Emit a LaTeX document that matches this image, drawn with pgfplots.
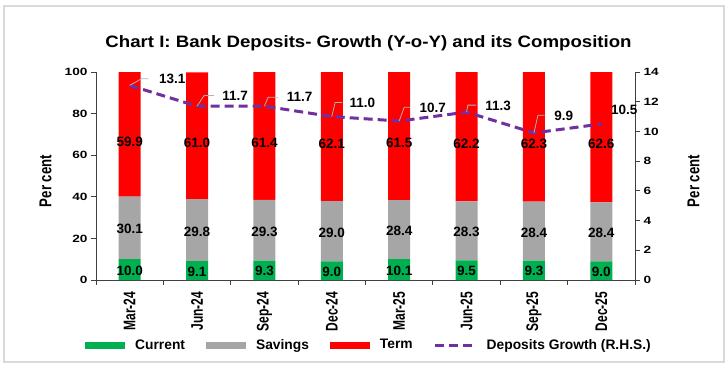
\documentclass[border=0pt]{standalone}
\usepackage{fontspec}
\setmainfont{Liberation Sans}
\usepackage{graphicx}
\usepackage{pgfplots}
\usepackage{pgfplotstable}
\pgfplotsset{compat=1.18}

\definecolor{cur}{HTML}{00B050}
\definecolor{sav}{HTML}{A6A6A6}
\definecolor{term}{HTML}{FF0000}
\definecolor{grw}{HTML}{7030A0}
\definecolor{framec}{HTML}{D9D9D9}
\definecolor{axc}{HTML}{404040}

\pgfplotstableread{
x cur sav term
0 10.0 30.1 59.9
1 9.1 29.8 61.0
2 9.3 29.3 61.4
3 9.0 29.0 62.1
4 10.1 28.4 61.5
5 9.5 28.3 62.2
6 9.3 28.4 62.3
7 9.0 28.4 62.6
}\comp

\pgfplotstableread{
x g ax ay bx lx ly
0 13.1 12 6.7 18.7 29 7
1 11.7 7 10.6 17 25 10.3
2 11.7 3.7 9 13.7 22 9.7
3 11.0 3.3 14 10 17.3 13.7
4 10.7 5 13.7 11 20 12.7
5 11.3 1.3 7 9.3 18.3 6
6 9.9 4 17.7 10.6 20 16.7
7 10.5 0 0 0 9.3 14.3
}\growth

\pgfdeclareplotmark{leader}{%
  \pgfpathmoveto{\pgfpointorigin}%
  \pgfpathlineto{\pgfpoint{\lax pt}{\lay pt}}%
  \pgfpathlineto{\pgfpoint{\lbx pt}{\lay pt}}%
  \pgfusepathqstroke}

\newcommand\tk[1]{\scalebox{1.3}[1]{#1}}
\newcommand\xl[1]{\scalebox{1}[1.4]{#1}}

\pgfplotsset{
  common/.style={
    at={(0,0)}, anchor=south west,
    width=539pt, height=208pt, scale only axis,
    xmin=-0.5, xmax=7.5,
    tick align=outside, major tick length=5pt,
    axis line style={axc, line width=0.8pt},
    tick style={axc, line width=0.8pt},
    /pgf/number format/assume math mode=true,
    yticklabel style={font=\fontsize{10.5}{12}\selectfont\bfseries},
    yticklabel={\tk{\pgfmathprintnumber{\tick}}},
    ylabel={\scalebox{1}[1.3]{Per cent}},
  },
  barlab/.style={
    point meta=explicit symbolic,
    nodes near coords={\pgfmathprintnumber[fixed,fixed zerofill,precision=1]{\pgfplotspointmeta}},
  },
  barleg/.style={legend image code/.code={\fill[##1] (0pt,-3.5pt) rectangle (40pt,3.5pt);}},
  lineleg/.style={legend image code/.code={\draw[##1] (0pt,0pt) -- (40pt,0pt);}},
}

\begin{document}
\begin{tikzpicture}
\path (-96pt,-87pt) rectangle (632pt,280pt);
\draw[framec, line width=1.5pt] (-92pt,-82pt) rectangle (628pt,274pt);

\begin{axis}[common,
  ymin=0, ymax=100.1,
  axis x line*=bottom, axis y line*=left,
  ytick={0,20,...,100},
  xtick={-0.5,0.5,...,7.5},
  x tick label as interval,
  xticklabels={\xl{Mar-24},\xl{Jun-24},\xl{Sep-24},\xl{Dec-24},\xl{Mar-25},\xl{Jun-25},\xl{Sep-25},\xl{Dec-25}},
  xticklabel style={rotate=90, anchor=east, inner xsep=6.5pt, font=\fontsize{12}{14}\selectfont\bfseries},
  ylabel style={font=\fontsize{13.2}{15}\selectfont\bfseries, at={(axis description cs:-0.0937,0.476)}, anchor=center, rotate=0},
  title={\scalebox{1.13}[1]{Chart I: Bank Deposits- Growth (Y-o-Y) and its Composition}},
  title style={font=\fontsize{16.5}{19}\selectfont\bfseries, at={(axis description cs:0.5056,1.111)}, anchor=center},
  ybar stacked, bar width=22pt,
  every node near coord/.append style={font=\fontsize{13.5}{15}\selectfont\bfseries, text=black, anchor=center},
  legend columns=4,
  legend style={at={(axis description cs:0.5065,-0.3125)}, anchor=center, draw=none, fill=none,
    font=\fontsize{13.8}{16}\selectfont\bfseries,
    /tikz/every odd column/.append style={column sep=4pt},
    /tikz/every even column/.append style={column sep=19pt}},
]
\addplot[fill=cur, draw=none, barleg, barlab,
  every node near coord/.append style={yshift=-1pt}] table[x=x,y=cur,meta=cur]{\comp};
\addlegendentry{\hspace{4pt}Current}
\addplot[fill=sav, draw=none, barleg, barlab,
  every node near coord/.append style={yshift=-1.4pt}] table[x=x,y=sav,meta=sav]{\comp};
\addlegendentry{\hspace{4pt}Savings}
\addplot[fill=term, draw=none, barleg, barlab,
  every node near coord/.append style={yshift=-7pt}] table[x=x,y=term,meta=term]{\comp};
\addlegendentry{\hspace{4pt}Term}
\addlegendimage{grw, line width=3pt, dash pattern=on 9pt off 5pt, lineleg}
\addlegendentry{\hspace{4pt}Deposits Growth (R.H.S.)}
\end{axis}

\begin{axis}[common,
  ymin=0, ymax=14,
  axis y line*=right, axis x line=none,
  ytick={0,2,...,14},
  ylabel style={font=\fontsize{13.2}{15}\selectfont\bfseries, at={(axis description cs:1.1085,0.476)}, anchor=center, rotate=0},
]
\addplot[grw, line width=3pt, dash pattern=on 9pt off 5pt,
  mark=leader, mark options={solid, draw=black!30, line width=0.8pt},
  visualization depends on={\thisrow{ax} \as \lax},
  visualization depends on={\thisrow{ay} \as \lay},
  visualization depends on={\thisrow{bx} \as \lbx},
  visualization depends on={\thisrow{lx} \as \llx},
  visualization depends on={\thisrow{ly} \as \lly},
  point meta=explicit symbolic,
  nodes near coords={\pgfmathprintnumber[fixed,fixed zerofill,precision=1]{\pgfplotspointmeta}},
  every node near coord/.append style={font=\fontsize{13.5}{15}\selectfont\bfseries, text=black,
    anchor=west, inner sep=0pt, xshift=\llx pt, yshift=\lly pt},
] table[x=x,y=g,meta=g]{\growth};
\end{axis}
\end{tikzpicture}
\end{document}
